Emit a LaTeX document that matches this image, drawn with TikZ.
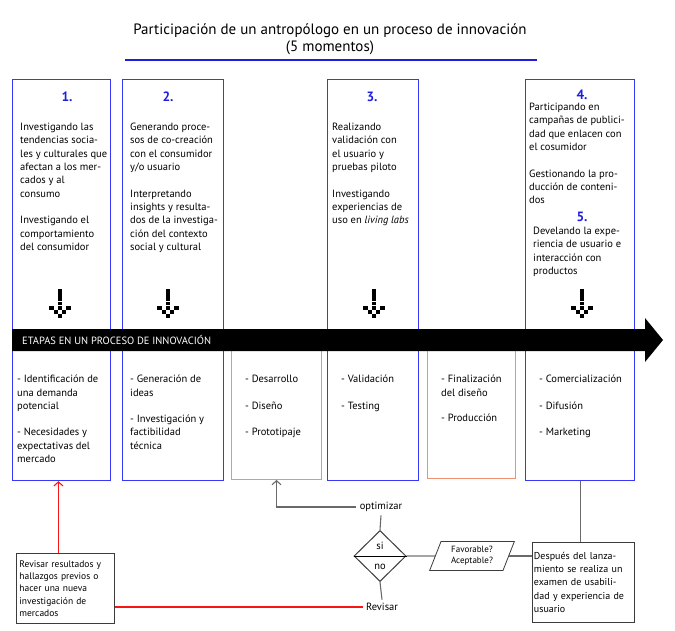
\documentclass[tikz,border=0pt]{standalone}
\usepackage{fontspec}
\setmainfont{PT Sans}
\usetikzlibrary{shapes.geometric,positioning,arrows.meta,calc}
\definecolor{boxblue}{RGB}{55,55,250}
\definecolor{numblue}{RGB}{30,30,225}
\definecolor{stgorange}{RGB}{240,145,115}
\definecolor{linegray}{RGB}{105,105,105}
\definecolor{boxgray}{RGB}{60,60,60}
\definecolor{revred}{RGB}{250,20,20}
\newcommand{\pixarrow}[1]{%
	\foreach \c/\r in {0/0,0/1,0/2,0/3,-2/4,0/4,2/4,-1/5,1/5,0/6}
		\fill ($(#1)+(\c*4.3-2.15,\r*4.2)$) rectangle +(4.3,3.8);
}
\begin{document}
\begin{tikzpicture}[x=1pt,y=-1pt,
	colbox/.style={draw=boxblue, line width=1.2pt, inner sep=0pt, anchor=north west},
	stgbox/.style={draw=stgorange, line width=1pt, inner sep=0pt, anchor=north west},
	txt/.style={anchor=north west, align=left, inner sep=0pt, font=\fontsize{10.5}{13.3}\selectfont},
	numlabel/.style={text=numblue, inner sep=0pt, font=\fontsize{13.5}{13.5}\selectfont\bfseries},
	flowbox/.style={draw=boxgray, line width=0.9pt, align=left, inner xsep=3pt, anchor=north west},
	gtext/.style={font=\fontsize{10.5}{12}\selectfont},
	gline/.style={draw=linegray, line width=1.1pt},
	redline/.style={draw=revred, line width=1.1pt},
	openarrow/.style={-{Straight Barb[length=4pt,width=9pt,line width=1.1pt]}}]
	\fill[white] (0,0) rectangle (675,631);
	\useasboundingbox (0,0) rectangle (675,631);
	
	\node[align=center, font=\fontsize{15}{17}\selectfont] (title) at (330,39) {Participación de un antropólogo en un proceso de innovación\\(5 momentos)};
	\draw[numblue, line width=2pt] (125,60) -- (537,60);
	
	\node[colbox, minimum width=98pt, minimum height=401pt] (col1) at (12,79) {};
	\node[colbox, minimum width=101pt, minimum height=401pt] (col2) at (122,79) {};
	\node[colbox, minimum width=91pt, minimum height=401pt] (col3) at (327,79) {};
	\node[colbox, minimum width=109pt, minimum height=401pt] (col4) at (525,79) {};
	\node[stgbox, minimum width=90pt, minimum height=129pt] (stg1) at (231,350) {};
	\node[stgbox, minimum width=88pt, minimum height=128pt] (stg2) at (427,350) {};
	
	\coordinate (p1) at (60,289);
	\coordinate (p2) at (168,289);
	\coordinate (p3) at (374,289);
	\coordinate (p4) at (582,289);
	\pixarrow{p1}
	\pixarrow{p2}
	\pixarrow{p3}
	\pixarrow{p4}
	
	\fill (12,329) -- (645,329) -- (645,318) -- (663,340) -- (645,362) -- (645,351) -- (12,351) -- cycle;
	\node[text=white, anchor=west, inner sep=0pt, font=\fontsize{10.5}{12}\selectfont] (etapas) at (22,340) {ETAPAS EN UN PROCESO DE INNOVACIÓN};
	
	\node[numlabel] (n1) at (67,97) {1.};
	\node[numlabel] (n2) at (168,97) {2.};
	\node[numlabel] (n3) at (372,97) {3.};
	\node[numlabel] (n4) at (582,95) {4.};
	\node[numlabel] (n5) at (582,217) {5.};
	
	\node[txt] (t1) at (20,123) {Investigando las\\tendencias socia-\\les y culturales que\\afectan a los mer-\\cados y al\\consumo\\[13.3pt]Investigando el\\comportamiento\\del consumidor};
	\node[txt] (t2) at (130,123) {Generando proce-\\sos de co-creación\\con el consumidor\\y/o usuario\\[13.3pt]Interpretando\\insights y resulta-\\dos de la investiga-\\ción del contexto\\social y cultural};
	\node[txt] (t3) at (332,123) {Realizando\\validación con\\el usuario y\\pruebas piloto\\[13.3pt]Investigando\\experiencias de\\uso en \textit{living labs}};
	\node[txt] (t4) at (529,103) {Participando en\\campañas de publici-\\dad que enlacen con\\el cosumidor\\[13.3pt]Gestionando la pro-\\ducción de conteni-\\dos};
	\node[txt] (t5) at (533,227) {Develando la expe-\\riencia de usuario e\\interacción con\\productos};
	
	\node[txt] (b1) at (17,375) {- Identificación de\\una demanda\\potencial\\[13.3pt]- Necesidades y\\expectativas del\\mercado};
	\node[txt] (b2) at (130,375) {- Generación de\\ideas\\[13.3pt]- Investigación y\\factibilidad\\técnica};
	\node[txt] (s1) at (245,375) {- Desarrollo\\[13.3pt]- Diseño\\[13.3pt]- Prototipaje};
	\node[txt] (b3) at (341,375) {- Validación\\[13.3pt]- Testing};
	\node[txt] (s2) at (441,375) {- Finalización\\del diseño\\[12pt]- Producción};
	\node[txt] (b4) at (539,375) {- Comercialización\\[13.3pt]- Difusión\\[13.3pt]- Marketing};
	
	\node[flowbox, minimum width=98pt, minimum height=70pt, text width=92pt, font=\fontsize{9.5}{12.3}\selectfont] (revbox) at (16,553) {Revisar resultados y\\hallazgos previos o\\hacer una nueva\\investigación de\\mercados};
	\node[flowbox, minimum width=102pt, minimum height=80pt, text width=99pt, inner xsep=1.5pt, font=\fontsize{10}{13.3}\selectfont] (after) at (532,542) {Después del lanza-\\miento se realiza un\\examen de usabili-\\dad y experiencia de\\usuario};
	\node[gtext] (opt) at (381,507) {optimizar};
	\node[gtext] (rev) at (382,607) {Revisar};
	\node[diamond, draw=boxgray, line width=1pt, minimum width=52pt, minimum height=51pt, inner sep=0pt] (dec) at (380,556) {};
	\node[gtext] (si) at (380,546) {si};
	\node[gtext] (no) at (380,567) {no};
	\node[trapezium, trapezium left angle=71, trapezium right angle=109, trapezium stretches=true, draw=boxgray, line width=0.8pt, minimum width=85pt, minimum height=29pt, align=center, font=\fontsize{9}{11}\selectfont] (eval) at (472,556) {Favorable?\\Aceptable?};
	
	\draw[redline, openarrow] ([xshift=-7pt]revbox.north) -- ([xshift=-7pt]revbox.north |- col1.south);
	\draw[redline] (revbox.east |- rev.west) -- (rev.west);
	\draw[gline, openarrow] (opt.west) -| (stg1.south);
	\draw[gline] (opt.south) -- (dec.north);
	\draw[gline] (dec.south) -- (rev.north);
	\draw[line width=0.8pt] (dec.west) -- (dec.east);
	\draw[line width=0.8pt] (dec.east) -- (eval.west);
	\draw[gline] (eval.east) -- (eval.east -| after.west);
	\draw[gline] (col4.south) -- (col4.south |- after.north);
\end{tikzpicture}
\end{document}
